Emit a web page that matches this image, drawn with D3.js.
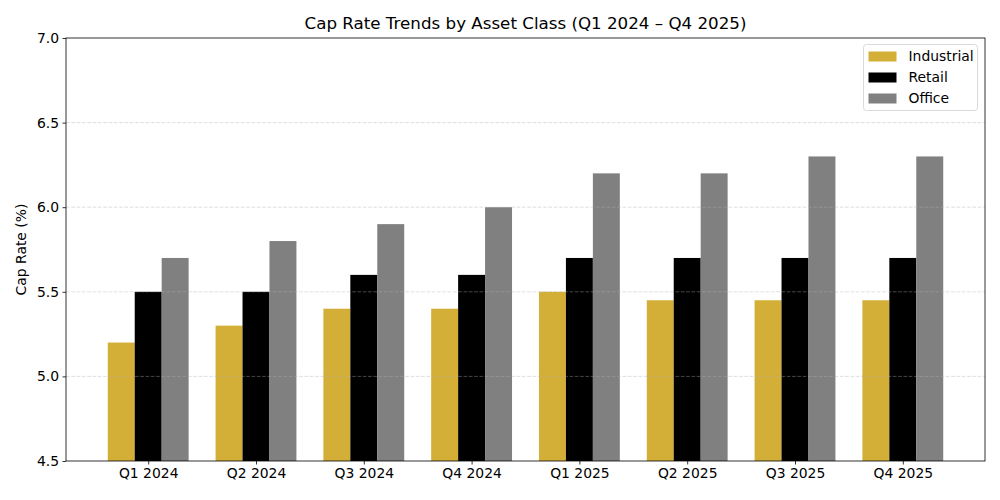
<!DOCTYPE html>
<html>
<head>
<meta charset="UTF-8">
<script src="https://d3js.org/d3.v7.min.js"></script>
<style>
  body { margin: 0; background: #fff; }
  text { font-family: "DejaVu Sans", sans-serif; fill: #000; }
</style>
</head>
<body>
<div id="chart"></div>
<script>
// data
const quarters = ["Q1 2024", "Q2 2024", "Q3 2024", "Q4 2024", "Q1 2025", "Q2 2025", "Q3 2025", "Q4 2025"];
const seriesNames = ["Industrial", "Retail", "Office"];
const seriesColors = ["#D4AF37", "#000000", "#808080"];
const industrial = [5.2, 5.3, 5.4, 5.4, 5.5, 5.45, 5.45, 5.45];
const retail = [5.5, 5.5, 5.6, 5.6, 5.7, 5.7, 5.7, 5.7];
const office = [5.7, 5.8, 5.9, 6.0, 6.2, 6.2, 6.3, 6.3];
const yTicks = [4.5, 5.0, 5.5, 6.0, 6.5, 7.0];

const allSeries = [industrial, retail, office];

const W = 1000, H = 500;
const m = { left: 66, right: 15, top: 38, bottom: 39 };
const iw = W - m.left - m.right, ih = H - m.top - m.bottom;

const svg = d3.select("#chart").append("svg")
    .attr("width", W).attr("height", H);

const g = svg.append("g").attr("transform", `translate(${m.left},${m.top})`);

// matplotlib-like x: categories at 0..7, bar width 0.25, 5% margins
const barW = 0.25;
const lo = -1.5 * barW, hi = quarters.length - 1 + 1.5 * barW;
const pad = (hi - lo) * 0.05;
const x = d3.scaleLinear().domain([lo - pad, hi + pad]).range([0, iw]);
const y = d3.scaleLinear().domain([4.5, 7.0]).range([ih, 0]);

// bars
allSeries.forEach((vals, si) => {
    g.selectAll(".bar" + si)
        .data(vals)
        .enter()
        .append("rect")
        .attr("x", (d, i) => x(i + (si - 1) * barW - barW / 2))
        .attr("width", x(barW) - x(0))
        .attr("y", d => y(d))
        .attr("height", d => ih - y(d))
        .attr("fill", seriesColors[si]);
});

// grid (drawn over bars like the original)
g.selectAll(".grid")
    .data(yTicks.slice(1, -1))
    .enter()
    .append("line")
    .attr("x1", 0).attr("x2", iw)
    .attr("y1", d => y(d)).attr("y2", d => y(d))
    .attr("stroke", "#b0b0b0")
    .attr("stroke-opacity", 0.5)
    .attr("stroke-dasharray", "3.7,1.6")
    .attr("stroke-width", 0.8);

// axes
const yAxis = d3.axisLeft(y).tickValues(yTicks).tickFormat(d3.format(".1f")).tickSize(3.5).tickPadding(3.5);
const yg = g.append("g").call(yAxis);
const xAxis = d3.axisBottom(x).tickValues(d3.range(quarters.length)).tickFormat(i => quarters[i]).tickSize(3.5).tickPadding(3.5);
const xg = g.append("g").attr("transform", `translate(0,${ih})`).call(xAxis);

[yg, xg].forEach(a => {
    a.select(".domain").remove();
    a.selectAll("line").attr("stroke", "#000").attr("stroke-width", 0.8);
    a.selectAll("text").style("font-size", "13.9px").style("font-family", "DejaVu Sans, sans-serif").attr("fill", "#000");
});

// frame
g.append("rect").attr("width", iw).attr("height", ih)
    .attr("fill", "none").attr("stroke", "#000").attr("stroke-width", 0.8);

// title & label
svg.append("text")
    .attr("x", m.left + iw / 2).attr("y", 29)
    .attr("text-anchor", "middle")
    .style("font-size", "16.7px")
    .text("Cap Rate Trends by Asset Class (Q1 2024 – Q4 2025)");

svg.append("text")
    .attr("transform", `translate(26,${m.top + ih / 2}) rotate(-90)`)
    .attr("text-anchor", "middle")
    .style("font-size", "13.9px")
    .text("Cap Rate (%)");

// legend
const lg = svg.append("g").attr("transform", `translate(863.5,44.5)`);
lg.append("rect").attr("width", 114).attr("height", 66).attr("rx", 3)
    .attr("fill", "#fff").attr("fill-opacity", 0.8)
    .attr("stroke", "#d9d9d9").attr("stroke-width", 1);
seriesNames.forEach((name, i) => {
    lg.append("rect").attr("x", 5).attr("y", 7 + i * 21).attr("width", 28).attr("height", 10)
        .attr("fill", seriesColors[i]);
    lg.append("text").attr("x", 45).attr("y", 12 + i * 21).attr("dy", "0.35em")
        .style("font-size", "13.9px").text(name);
});
</script>
</body>
</html>
